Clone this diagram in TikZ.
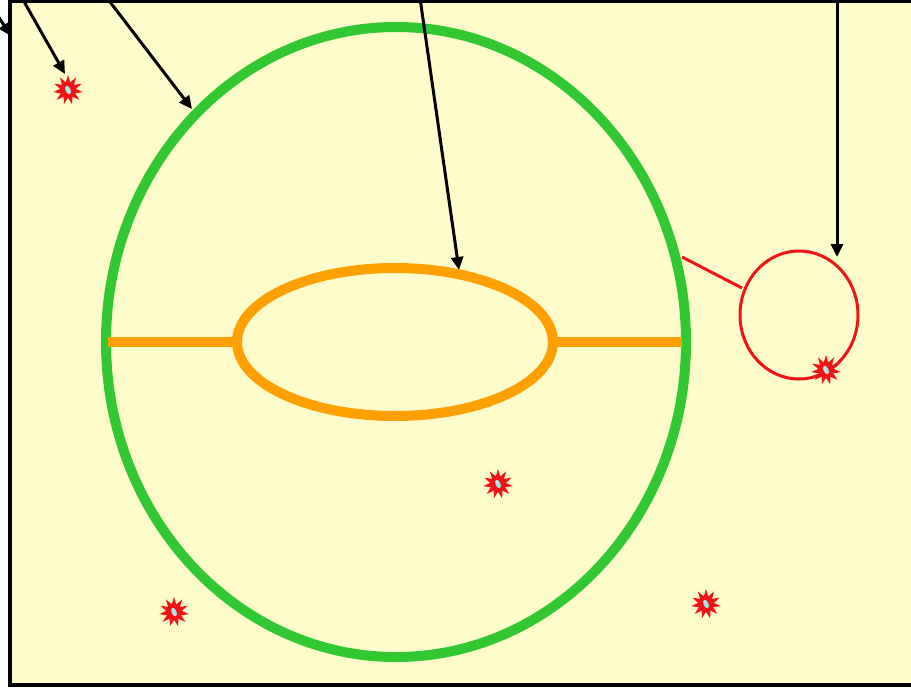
\documentclass[tikz,border=0pt]{standalone}
\usetikzlibrary{shapes.geometric,arrows.meta}
\definecolor{bgyellow}{RGB}{255,252,204}
\definecolor{ringgreen}{RGB}{50,200,50}
\definecolor{ringorange}{RGB}{255,160,0}
\definecolor{hitred}{RGB}{240,20,20}
\definecolor{hitcore}{RGB}{170,230,235}
\tikzset{
  ptr/.style={draw=black,line width=3pt,-{Triangle[length=13pt,width=12pt]}},
  burst/.style={star,star points=11,star point ratio=1.9,fill=hitred,draw=none,minimum size=30pt,inner sep=0pt},
  core/.style={ellipse,fill=hitcore,minimum width=5pt,minimum height=9pt,inner sep=0pt,rotate=25},
  thick ring/.style={line width=10pt},
}
\begin{document}
\begin{tikzpicture}[x=1pt,y=-1pt]
\useasboundingbox (0,0) rectangle (911,691);
\begin{scope}
\clip (0,0) rectangle (911,691);
\fill[white] (0,0) rectangle (911,691);
\draw[fill=bgyellow,line width=3.5pt] (10,1) rectangle (930,685);
\end{scope}
% rings
\draw[ringgreen,thick ring] (396,342) ellipse [x radius=290, y radius=315];
\draw[ringorange,thick ring] (395,342) ellipse [x radius=158, y radius=74];
\draw[ringorange,thick ring] (108,342) -- (237,342);
\draw[ringorange,thick ring] (553,342) -- (682,342);
% red circle and line
\draw[hitred,line width=3pt] (799,315) ellipse [x radius=59, y radius=64];
\coordinate (rl1) at (682,257);
\coordinate (rl2) at (742,288);
\draw[hitred,line width=3pt] (rl1) -- (rl2);
% bursts
\node[burst] (b1) at (68,90) {};
\node[burst] (b2) at (498,484) {};
\node[burst] (b3) at (174,612) {};
\node[burst] (b4) at (706,604) {};
\node[burst] (b5) at (826,370) {};
\foreach \n in {b1,b2,b3,b4,b5} \node[core] at (\n) {};
% arrow ends
\coordinate (s0) at (-2,16);
\coordinate (t0) at (11,36);
\coordinate (s1) at (22,-2);
\coordinate (t1) at (65,74);
\coordinate (s2) at (107,-2);
\coordinate (t2) at (192,109);
\coordinate (s3) at (420,-2);
\coordinate (t3) at (459,270);
\coordinate (s4) at (837,-2);
\coordinate (t4) at (837,257);
\draw[ptr] (s0) -- (t0);
\draw[ptr] (s1) -- (t1);
\draw[ptr] (s2) -- (t2);
\draw[ptr] (s3) -- (t3);
\draw[ptr] (s4) -- (t4);
\end{tikzpicture}
\end{document}
